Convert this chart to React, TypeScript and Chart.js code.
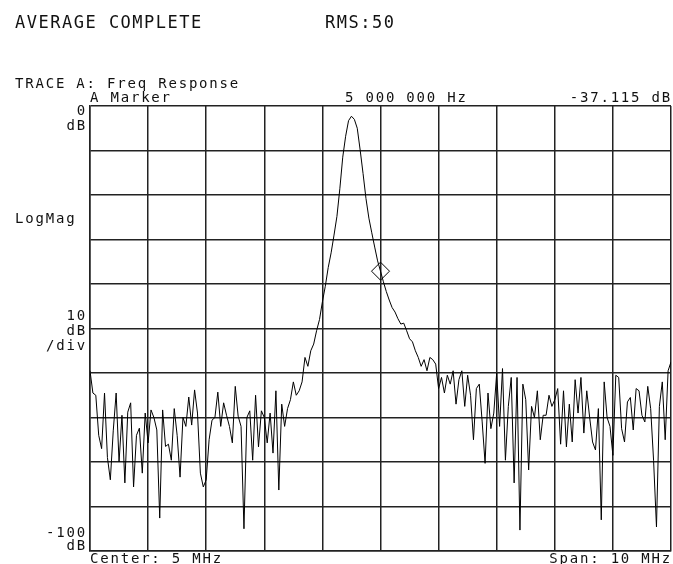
import React, { useEffect, useRef } from "react";
import { Chart, registerables } from "chart.js";

Chart.register(...registerables);

// Sweep: 0..10 MHz, 201 points
const START_MHZ = 0;
const STEP_MHZ = 0.05;

// Trace A magnitude (dB), one value per sweep point
const magnitudeDb: number[] = [
  -59.5, -64.5, -65, -74, -77, -64.5, -79, -84, -73, -64.5,
  -80, -69.5, -84.7, -68.8, -66.7, -85.6, -74, -72.4, -82.5, -69,
  -75.7, -68.3, -70, -72.8, -92.6, -68.3, -76.5, -76, -79.6, -68,
  -74, -83.4, -70, -72, -65.4, -71.7, -63.8, -69, -82.5, -85.6,
  -84, -75, -70.6, -70, -64.3, -72, -66.7, -69.5, -72, -75.7,
  -63, -69.7, -72, -95, -70, -68.5, -79.6, -65, -76.6, -68.5,
  -70, -75.7, -69, -78, -64, -86.3, -67, -72, -68, -66,
  -62, -65, -64, -62, -56.5, -58.5, -55, -53.5, -50.5, -48,
  -44, -40.5, -36.3, -33, -29, -24.8, -18.6, -11.5, -6.8, -3.3,
  -2.3, -3, -5, -9.9, -15.2, -20.8, -25.2, -28.5, -31.7, -34.8,
  -37.115, -39.5, -41.7, -43.6, -45.3, -46.3, -47.8, -49, -48.8, -50.5,
  -52.3, -53, -55, -56.5, -58.5, -57, -59.5, -56.5, -57, -58,
  -63.5, -61, -64.5, -60.5, -62.5, -59.5, -67, -61.5, -59.5, -67.5,
  -60.5, -65, -75, -63.5, -62.5, -71, -80.3, -64.5, -72.5, -69,
  -60, -72, -59, -79.6, -67.5, -61, -84.7, -61, -95.3, -62.5,
  -66, -81.8, -67.5, -70, -64, -75, -69.5, -69.5, -65, -67.5,
  -66, -63.5, -76, -64, -76.6, -67, -75.5, -61.5, -69, -61,
  -73.5, -64, -70, -75.5, -77.3, -68, -93, -62, -70, -72,
  -78.5, -60.5, -61, -72.5, -75.5, -66.5, -65.5, -72.8, -63.5, -64,
  -69.5, -71, -63, -68, -79.6, -94.6, -67.5, -62, -75, -59.5,
  -57.5,
];

// Marker A
const markerFreqMHz = [5];
const markerDb = [-37.115];

// Axis definition
const X_MIN = 0;
const X_MAX = 10;
const Y_MIN = -100;
const Y_MAX = 0;

const FONT_BIG = '17px "DejaVu Sans Mono"';
const FONT_SMALL = '14px "DejaVu Sans Mono"';

type Label = { text: string; x: number; y: number; align: CanvasTextAlign; big?: boolean };

const labels: Label[] = [
  { text: "AVERAGE COMPLETE", x: 15, y: 28, align: "left", big: true },
  { text: "RMS:50", x: 325, y: 28, align: "left", big: true },
  { text: "TRACE A: Freq Response", x: 15, y: 87.5, align: "left" },
  { text: "A Marker", x: 90, y: 101.5, align: "left" },
  { text: "5 000 000 Hz", x: 345, y: 101.5, align: "left" },
  { text: "-37.115 dB", x: 672, y: 101.5, align: "right" },
  { text: "0", x: 87, y: 115, align: "right" },
  { text: "dB", x: 87, y: 130, align: "right" },
  { text: "LogMag", x: 15, y: 223, align: "left" },
  { text: "10", x: 87, y: 320, align: "right" },
  { text: "dB", x: 87, y: 335, align: "right" },
  { text: "/div", x: 87, y: 350, align: "right" },
  { text: "-100", x: 87, y: 537, align: "right" },
  { text: "dB", x: 87, y: 550, align: "right" },
  { text: "Center: 5 MHz", x: 90, y: 563, align: "left" },
  { text: "Span: 10 MHz", x: 672, y: 563, align: "right" },
];

const textPlugin = {
  id: "analyzerText",
  afterDraw(chart: any) {
    const ctx: CanvasRenderingContext2D = chart.ctx;
    ctx.save();
    ctx.fillStyle = "#111";
    ctx.textBaseline = "alphabetic";
    for (const l of labels) {
      ctx.font = l.big ? FONT_BIG : FONT_SMALL;
      (ctx as any).letterSpacing = l.big ? "1.5px" : "1.8px";
      ctx.textAlign = l.align;
      ctx.fillText(l.text, l.x, l.y);
    }
    ctx.restore();
  },
};

export default function App() {
  const ref = useRef<HTMLCanvasElement | null>(null);

  useEffect(() => {
    document.body.style.margin = "0";
    const canvas = ref.current;
    if (!canvas) return;
    const trace = magnitudeDb.map((v, i) => ({ x: START_MHZ + i * STEP_MHZ, y: v }));
    const marker = markerFreqMHz.map((f, i) => ({ x: f, y: markerDb[i] }));
    const chart = new Chart(canvas, {
      type: "line",
      data: {
        datasets: [
          {
            data: trace,
            borderColor: "#000",
            borderWidth: 1,
            pointRadius: 0,
            tension: 0,
            fill: false,
          },
          {
            data: marker,
            showLine: false,
            pointStyle: "rectRot",
            pointRadius: 9,
            pointBorderWidth: 1,
            pointBorderColor: "#000",
            pointBackgroundColor: "rgba(0,0,0,0)",
          },
        ],
      },
      options: {
        animation: false,
        responsive: false,
        devicePixelRatio: 1,
        layout: { autoPadding: false, padding: { left: 90, top: 106, right: 2, bottom: 13 } },
        plugins: { legend: { display: false }, tooltip: { enabled: false } },
        scales: {
          x: {
            type: "linear",
            min: X_MIN,
            max: X_MAX,
            ticks: { display: false, stepSize: 1 },
            grid: { color: "#222", lineWidth: 1.5, drawTicks: false },
            border: { display: true, color: "#222", width: 1.5 },
            afterFit: (s: any) => {
              s.height = 0;
            },
          },
          y: {
            type: "linear",
            min: Y_MIN,
            max: Y_MAX,
            ticks: { display: false, stepSize: 10 },
            grid: { color: "#222", lineWidth: 1.5, drawTicks: false },
            border: { display: true, color: "#222", width: 1.5 },
            afterFit: (s: any) => {
              s.width = 0;
            },
          },
        },
      },
      plugins: [textPlugin],
    });
    return () => chart.destroy();
  }, []);

  return (
    <div style={{ position: "relative", width: 673, height: 564, background: "#fff" }}>
      <canvas ref={ref} width={673} height={564} style={{ position: "absolute", left: 0, top: 0 }} />
    </div>
  );
}
